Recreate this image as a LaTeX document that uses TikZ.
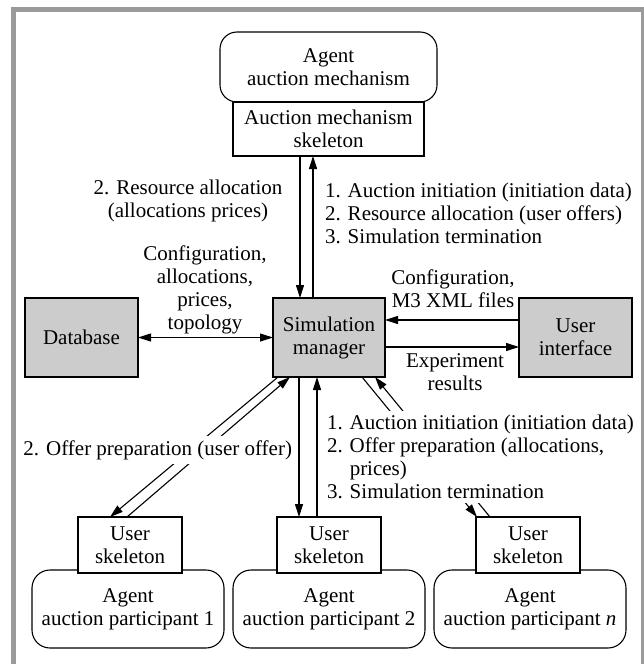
\documentclass[tikz,border=0pt]{standalone}
\usepackage{fontspec}
\setmainfont{Liberation Serif}
\usetikzlibrary{arrows.meta}
\definecolor{framegray}{HTML}{9A9A9A}
\definecolor{boxgray}{HTML}{CCCCCC}
\begin{document}
\begin{tikzpicture}[x=1pt,y=-1pt,
  every node/.style={font=\fontsize{21}{23}\selectfont, inner sep=0pt, outer sep=0pt},
  agentbox/.style={draw, line width=1.1pt, rounded corners=18pt, fill=white, align=center, minimum height=78pt, minimum width=192pt},
  skelbox/.style={draw, line width=2.6pt, fill=white, align=center, minimum width=104pt, minimum height=56pt},
  graybox/.style={draw, line width=1.3pt, fill=boxgray, align=center, minimum width=113pt, minimum height=79pt},
  conn/.style={line width=1.1pt, -{Triangle[length=13pt,width=8pt]}},
  conn2/.style={line width=1.1pt, {Triangle[length=13pt,width=8pt]}-{Triangle[length=13pt,width=8pt]}},
  lbl/.style={align=center},
  wlbl/.style={fill=white, inner xsep=3pt, inner ysep=4pt}
]
\useasboundingbox (0,0) rectangle (644,664);
\draw[framegray, line width=5pt] (13.5,9.5) rectangle (643.5,670);

% boxes
\node[agentbox, minimum width=217pt, minimum height=70pt, rounded corners=17pt] (agtop) at (328.5,67) {Agent\\auction mechanism};
\node[skelbox, minimum width=191pt, minimum height=54pt] (sktop) at (328.5,129) {Auction mechanism\\skeleton};
\node[graybox, minimum width=112pt] (sim) at (329,337.5) {Simulation\\manager};
\node[graybox] (db) at (81.5,337.5) {Database};
\node[graybox] (ui) at (575.5,337.5) {User\\interface};
\node[agentbox] (ag1) at (128,609) {Agent\\auction participant 1};
\node[agentbox] (ag2) at (329,609) {Agent\\auction participant 2};
\node[agentbox] (agn) at (530,609) {Agent\\auction participant \textit{n}};
\node[skelbox] (sk1) at (130,545) {User\\skeleton};
\node[skelbox] (sk2) at (329,545) {User\\skeleton};
\node[skelbox] (skn) at (528,545) {User\\skeleton};

% connectors
\draw[conn] ([xshift=-28.5pt]sktop.south) -- ([xshift=-29pt]sim.north);
\draw[conn] ([xshift=-16pt]sim.north) -- ([xshift=-15.5pt]sktop.south);
\draw[conn2] (db.east) -- (sim.west);
\draw[conn] ([yshift=17.5pt]ui.west) -- ([yshift=17.5pt]sim.east);
\draw[conn] ([yshift=-9.5pt]sim.east) -- ([yshift=-9.5pt]ui.west);
\draw[conn] ([xshift=-30pt]sim.south) -- ([xshift=-30pt]sk2.north);
\draw[conn] ([xshift=-12pt]sk2.north) -- ([xshift=-12pt]sim.south);
\draw[conn] ([xshift=-51pt]sim.south) -- ([xshift=-20pt]sk1.north);
\draw[conn] ([xshift=-3pt]sk1.north) -- ([xshift=-39pt]sim.south);
\draw[conn] ([xshift=33pt]sim.south) -- ([xshift=1pt]skn.north west);
\draw[conn] ([xshift=-38pt]skn.north) -- ([xshift=46pt]sim.south);

% labels
\node[lbl] (lblres) at (188,201) {2. Resource allocation\\(allocations prices)};
\node[align=left, anchor=west] (lblauc) at (325,213) {1. Auction initiation (initiation data)\\2. Resource allocation (user offers)\\3. Simulation termination};
\node[lbl] (lbldb) at (205,290) {Configuration,\\allocations,\\prices,\\topology};
\node[lbl] (lblcfg) at (453,289) {Configuration,\\M3 XML files};
\node[lbl] (lblexp) at (455,372.5) {Experiment\\results};
\node[wlbl, anchor=east] (lbloffer) at (295,450) {2. Offer preparation (user offer)};
\node[wlbl, align=left, anchor=west] (lblusr) at (324,457) {1. Auction initiation (initiation data)\\2. Offer preparation (allocations,\\\hphantom{2. }prices)\\3. Simulation termination};
\end{tikzpicture}
\end{document}
